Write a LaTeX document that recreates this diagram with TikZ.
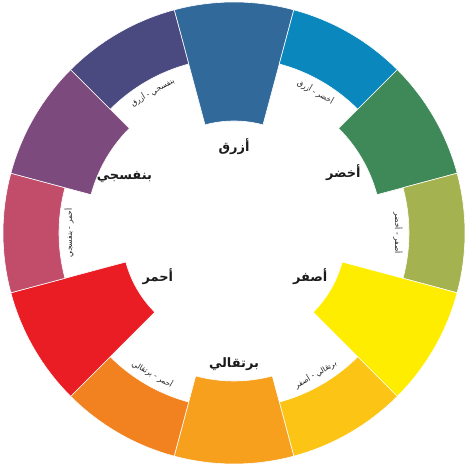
\documentclass[tikz,border=0pt]{standalone}
\usepackage{fontspec}
\newfontfamily\arabicfont[Script=Arabic]{DejaVu Sans}
\TeXXeTstate=1
\definecolor{cBlue}{HTML}{316A9A}
\definecolor{cBlueGreen}{HTML}{0A88BD}
\definecolor{cGreen}{HTML}{3E8957}
\definecolor{cYellowGreen}{HTML}{A4B250}
\definecolor{cYellow}{HTML}{FFED00}
\definecolor{cYellowOrange}{HTML}{FCC516}
\definecolor{cOrange}{HTML}{F6A01E}
\definecolor{cRedOrange}{HTML}{F1821F}
\definecolor{cRed}{HTML}{EA1D25}
\definecolor{cRedViolet}{HTML}{C24D6A}
\definecolor{cViolet}{HTML}{7D4A7D}
\definecolor{cBlueViolet}{HTML}{4A4A80}
\definecolor{cText}{HTML}{1A1A1A}
\tikzset{
  seg/.style={draw=white, line width=0.6bp},
  mainlabel/.style={text=cText, font=\arabicfont\bfseries\fontsize{13}{15}\selectfont, inner sep=0},
  smalllabel/.style={text=cText, font=\arabicfont\fontsize{7.5}{9}\selectfont, inner sep=0},
}
\newcommand{\wheelseg}[3]{% center angle, inner radius, colour
  \fill[#3,seg] (#1-15:#2) arc[start angle=#1-15, end angle=#1+15, radius=#2]
    -- (#1+15:231) arc[start angle=#1+15, end angle=#1-15, radius=231] -- cycle;}
\begin{document}
\begin{tikzpicture}[x=1bp,y=1bp]
\useasboundingbox (-234,-233) rectangle (233,233);
\wheelseg{90}{112}{cBlue}
\wheelseg{60}{175}{cBlueGreen}
\wheelseg{30}{148}{cGreen}
\wheelseg{0}{175}{cYellowGreen}
\wheelseg{-30}{112}{cYellow}
\wheelseg{-60}{175}{cYellowOrange}
\wheelseg{-90}{148}{cOrange}
\wheelseg{-120}{175}{cRedOrange}
\wheelseg{-150}{112}{cRed}
\wheelseg{180}{175}{cRedViolet}
\wheelseg{150}{148}{cViolet}
\wheelseg{120}{175}{cBlueViolet}
% main labels
\node[mainlabel] (blue) at (90:86) {\beginR أزرق\endR};
\node[mainlabel] (green) at (29:125) {\beginR أخضر\endR};
\node[mainlabel] (yellow) at (-30:88) {\beginR أصفر\endR};
\node[mainlabel] (orange) at (-90:131) {\beginR برتقالي\endR};
\node[mainlabel] (red) at (-150:88) {\beginR أحمر\endR};
\node[mainlabel] (violet) at (153:123) {\beginR بنفسجي\endR};
% tertiary labels
\node[smalllabel, rotate=-30] (bluegreen) at (60:163) {\beginR أخضر - أزرق\endR};
\node[smalllabel, rotate=-90] (yellowgreen) at (0:164) {\beginR أصفر - أخضر\endR};
\node[smalllabel, rotate=30] (yelloworange) at (-60:163) {\beginR برتقالي - أصفر\endR};
\node[smalllabel, rotate=-30] (redorange) at (-120:163) {\beginR أحمر - برتقالي\endR};
\node[smalllabel, rotate=90] (redviolet) at (180:165) {\beginR أحمر - بنفسجي\endR};
\node[smalllabel, rotate=30] (blueviolet) at (120:163) {\beginR بنفسجي - أزرق\endR};
\end{tikzpicture}
\end{document}
